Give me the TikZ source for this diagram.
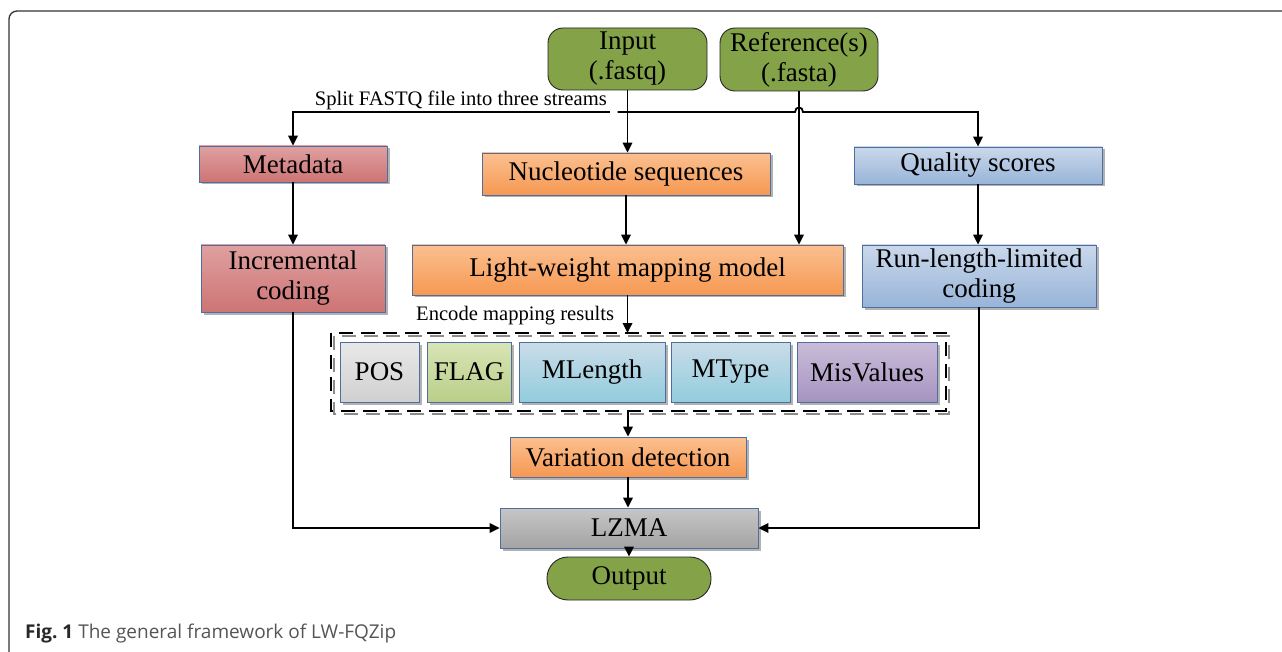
\documentclass[tikz,border=0pt]{standalone}
\usepackage{fontspec}
\setmainfont{Liberation Serif}
\newfontfamily\capfont{Open Sans}
\usetikzlibrary{arrows.meta,shadows,calc}

\definecolor{boxedge}{RGB}{79,110,160}
\definecolor{grn}{RGB}{132,163,72}
\definecolor{redT}{RGB}{224,160,160}
\definecolor{redB}{RGB}{205,116,116}
\definecolor{orT}{RGB}{251,192,144}
\definecolor{orB}{RGB}{246,152,82}
\definecolor{bluT}{RGB}{202,216,235}
\definecolor{bluB}{RGB}{152,180,216}
\definecolor{gryT}{RGB}{232,232,232}
\definecolor{gryB}{RGB}{208,208,208}
\definecolor{flgT}{RGB}{216,229,182}
\definecolor{flgB}{RGB}{186,206,136}
\definecolor{aquT}{RGB}{202,220,232}
\definecolor{aquB}{RGB}{146,204,222}
\definecolor{purT}{RGB}{202,188,217}
\definecolor{purB}{RGB}{166,148,192}
\definecolor{lzT}{RGB}{198,198,198}
\definecolor{lzB}{RGB}{164,164,164}
\definecolor{capdark}{RGB}{40,40,40}
\definecolor{capgray}{RGB}{85,85,85}

\begin{document}
\begin{tikzpicture}[x=1pt,y=-1pt,
  conn/.style={line width=1.8pt, black},
  arr/.style={conn, -{Triangle[length=10pt,width=9.5pt]}},
  arrback/.style={conn, {Triangle[length=10pt,width=9.5pt]}-},
  sz/.style 2 args={minimum width=#1pt, minimum height=#2pt},
  txt/.style={font=\fontsize{27}{30}\selectfont, align=center, inner sep=0pt},
  box/.style={txt, draw=boxedge, line width=0.8pt,
    drop shadow={shadow xshift=2.5pt, shadow yshift=-2.5pt, fill=black!55, opacity=0.55}},
  redbox/.style={box, top color=redT, bottom color=redB},
  orbox/.style={box, top color=orT, bottom color=orB},
  blubox/.style={box, top color=bluT, bottom color=bluB},
  grybox/.style={box, top color=gryT, bottom color=gryB},
  flgbox/.style={box, top color=flgT, bottom color=flgB},
  aqubox/.style={box, top color=aquT, bottom color=aquB},
  purbox/.style={box, top color=purT, bottom color=purB},
  lzbox/.style={box, top color=lzT, bottom color=lzB},
  term/.style={txt, draw=black!85, line width=0.9pt, fill=grn, rounded corners=15pt},
  small/.style={font=\fontsize{20.6}{24}\selectfont, inner sep=0pt},
  dashbox/.style={line width=1.6pt, dash pattern=on 14pt off 8pt},
]
\useasboundingbox (0,0) rectangle (1282,652);
\fill[white] (0,0) rectangle (1282,652);

% outer frame, open at the right and bottom
\draw[black!80, line width=1.3pt, rounded corners=8pt] (1300,11) -- (9,11) -- (9,670);

% inputs
\node[term, sz={159}{62}] (in)  at (627.5,59) {Input\\(.fastq)};
\node[term, sz={158}{63}] (ref) at (799,59.5) {Reference(s)\\(.fasta)};

% three streams
\node[redbox, sz={188}{36}] (meta) at (293,164) {Metadata};
\node[orbox,  sz={288}{42}] (nuc)  at (626,174) {Nucleotide sequences};
\node[blubox, sz={248}{37}] (qual) at (978,165.5) {Quality scores};

\node[redbox, sz={184}{67}] (inc)  at (293,278.5) {Incremental\\coding};
\node[orbox,  sz={431}{50}] (lw)   at (627.5,270) {Light-weight mapping model};
\node[blubox, sz={234}{62}] (rll)  at (979,276) {Run-length-limited\\coding};

% encoded mapping fields
\draw[dashbox, black!45] (334,336) rectangle (949,414);
\draw[dashbox, black] (331,333) rectangle (946,411);
\coordinate (fldtop) at (638.5,333);
\coordinate (fldbot) at (638.5,411);
\node[grybox, sz={79}{60}]  (pos)  at (379.5,372) {POS};
\node[flgbox, sz={84}{60}]  (flag) at (469,372)  {FLAG};
\node[aqubox, sz={146}{60}] (mlen) at (592,372)  {MLength};
\node[aqubox, sz={119}{60}] (mtyp) at (730.5,372) {MType};
\node[purbox, sz={140}{60}] (misv) at (867,372)  {MisValues};

\node[orbox, sz={236}{40}] (var)  at (628,457) {Variation detection};
\node[lzbox, sz={258}{40}] (lzma) at (629,528) {LZMA};
\node[term, sz={164}{43}, rounded corners=21pt] (out) at (629,578.5) {Output};

% labels
\node[small, anchor=base east] (split) at (607,106) {Split FASTQ file into three streams};
\node[small, anchor=base west] (enc)   at (416,320) {Encode mapping results};

% connectors: the split bus, with a hop over the reference line
\coordinate (bus) at (0,112);
\draw[arrback] (meta.north) -- (meta.north |- bus) -- ($(in.south |- bus)+(-18,0)$);
\draw[arr] ($(in.south |- bus)+(-10,0)$)
  -- ($(ref.south |- bus)+(-4,0)$) .. controls +(0,-6) and +(0,-6) .. ($(ref.south |- bus)+(4,0)$)
  -- (qual.north |- bus) -- (qual.north);
\draw[arr] (in.south) -- (in.south |- nuc.north);
\draw[arr] (ref.south) -- (ref.south |- lw.north);
\draw[arr] (meta.south) -- (inc.north);
\draw[arr] (qual.south) -- (qual.south |- rll.north);
\draw[arr] (nuc.south) -- (nuc.south |- lw.north);
\draw[arr] (lw.south) -- (lw.south |- fldtop);
\draw[arr] (var.north |- fldbot) -- (var.north);
\draw[arr] (var.south) -- (var.south |- lzma.north);
\draw[arr] (lzma.south) -- (lzma.south |- out.north);
\draw[arr] (inc.south) |- (lzma.west);
\draw[arr] (rll.south) |- (lzma.east);

% caption
\node[anchor=base west, inner sep=0pt, font=\capfont\fontsize{19}{21}\selectfont] (cap) at (25,638)
  {\textcolor{capdark}{\bfseries Fig.~1} \textcolor{capgray}{The general framework of LW-FQZip}};
\end{tikzpicture}
\end{document}
